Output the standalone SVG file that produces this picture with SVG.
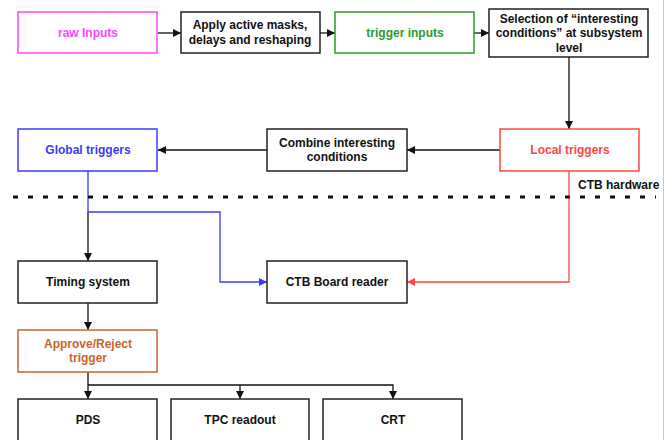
<svg xmlns="http://www.w3.org/2000/svg" width="667" height="440" viewBox="0 0 667 440">
<style>
  text { font-family: "Liberation Sans", Arial, sans-serif; font-size: 12px; font-weight: bold; text-anchor: middle; fill: #111; }
  .box { fill: #fff; stroke: #222; stroke-width: 1.5; }
  .conn { fill: none; stroke: #111; stroke-width: 1.3; }
  .blue { stroke: #3b3bff; }
  .red { stroke: #ff4444; }
</style>
<defs>
  <marker id="ah" viewBox="0 0 10 10" refX="10" refY="5" markerWidth="8" markerHeight="8" markerUnits="userSpaceOnUse" orient="auto">
    <path d="M0,0 L10,5 L0,10 z" fill="#111"/>
  </marker>
  <marker id="ahb" viewBox="0 0 10 10" refX="10" refY="5" markerWidth="8" markerHeight="8" markerUnits="userSpaceOnUse" orient="auto">
    <path d="M0,0 L10,5 L0,10 z" fill="#3b3bff"/>
  </marker>
  <marker id="ahr" viewBox="0 0 10 10" refX="10" refY="5" markerWidth="8" markerHeight="8" markerUnits="userSpaceOnUse" orient="auto">
    <path d="M0,0 L10,5 L0,10 z" fill="#ff4444"/>
  </marker>
</defs>
<rect width="667" height="440" fill="#fff"/>
<line x1="663.5" y1="0" x2="663.5" y2="440" stroke="#c8c8c8" stroke-width="1"/>

<g id="connectors">
  <line class="conn" x1="158" y1="33" x2="181" y2="33" marker-end="url(#ah)"/>
  <line class="conn" x1="320" y1="33" x2="335" y2="33" marker-end="url(#ah)"/>
  <line class="conn" x1="474" y1="33" x2="489" y2="33" marker-end="url(#ah)"/>
  <line class="conn" x1="569" y1="57" x2="569" y2="129" marker-end="url(#ah)"/>
  <line class="conn" x1="500" y1="150" x2="407" y2="150" marker-end="url(#ah)"/>
  <line class="conn" x1="267" y1="150" x2="158" y2="150" marker-end="url(#ah)"/>
  <line class="conn" x1="88" y1="212" x2="88" y2="261" marker-end="url(#ah)"/>
  <path class="conn blue" d="M88 171 V212 H220 V282 H267" marker-end="url(#ahb)"/>
  <path class="conn red" d="M569 171 V282 H407" marker-end="url(#ahr)"/>
  <line class="conn" x1="88" y1="303" x2="88" y2="330" marker-end="url(#ah)"/>
  <line class="conn" x1="88" y1="372" x2="88" y2="399" marker-end="url(#ah)"/>
  <path class="conn" d="M88 385 H393 V399" marker-end="url(#ah)"/>
  <line class="conn" x1="240" y1="385" x2="240" y2="399" marker-end="url(#ah)"/>
</g>

<g id="separator">
  <line x1="13" y1="197" x2="495" y2="197" stroke="#111" stroke-width="3" stroke-dasharray="5 10"/>
  <line x1="490" y1="197" x2="656" y2="197" stroke="#111" stroke-width="3" stroke-dasharray="5 10"/>
  <text x="578" y="189" style="text-anchor:start">CTB hardware</text>
</g>

<g id="raw-inputs">
  <rect class="box" x="18" y="12" width="139" height="41" style="stroke:#ff44ff"/>
  <text x="88" y="37" style="fill:#ff44ff">raw Inputs</text>
</g>
<g id="apply-masks">
  <rect class="box" x="181" y="12" width="139" height="41"/>
  <text x="250" y="29">Apply active masks,</text>
  <text x="250" y="44">delays and reshaping</text>
</g>
<g id="trigger-inputs">
  <rect class="box" x="335" y="12" width="139" height="41" style="stroke:#2e9a2e"/>
  <text x="405" y="37" style="fill:#2e9a2e">trigger inputs</text>
</g>
<g id="selection">
  <rect class="box" x="489" y="9" width="159" height="48"/>
  <text x="569" y="23">Selection of “interesting</text>
  <text x="569" y="37">conditions” at subsystem</text>
  <text x="569" y="52">level</text>
</g>
<g id="global-triggers">
  <rect class="box" x="18" y="129" width="139" height="42" style="stroke:#3b3bff"/>
  <text x="88" y="154" style="fill:#3b3bff">Global triggers</text>
</g>
<g id="combine">
  <rect class="box" x="267" y="129" width="140" height="42"/>
  <text x="337" y="147">Combine interesting</text>
  <text x="337" y="161">conditions</text>
</g>
<g id="local-triggers">
  <rect class="box" x="500" y="129" width="139" height="42" style="stroke:#ff4444"/>
  <text x="570" y="154" style="fill:#ff4444">Local triggers</text>
</g>
<g id="timing-system">
  <rect class="box" x="18" y="261" width="139" height="42"/>
  <text x="88" y="286">Timing system</text>
</g>
<g id="ctb-board-reader">
  <rect class="box" x="267" y="261" width="140" height="42"/>
  <text x="337" y="286">CTB Board reader</text>
</g>
<g id="approve-reject">
  <rect class="box" x="18" y="330" width="139" height="42" style="stroke:#c8642c"/>
  <text x="88" y="348" style="fill:#c8642c">Approve/Reject</text>
  <text x="88" y="362" style="fill:#c8642c">trigger</text>
</g>
<g id="pds">
  <rect class="box" x="18" y="399" width="139" height="50"/>
  <text x="88" y="424">PDS</text>
</g>
<g id="tpc-readout">
  <rect class="box" x="171" y="399" width="138" height="50"/>
  <text x="240" y="424">TPC readout</text>
</g>
<g id="crt">
  <rect class="box" x="323" y="399" width="139" height="50"/>
  <text x="393" y="424">CRT</text>
</g>
</svg>
